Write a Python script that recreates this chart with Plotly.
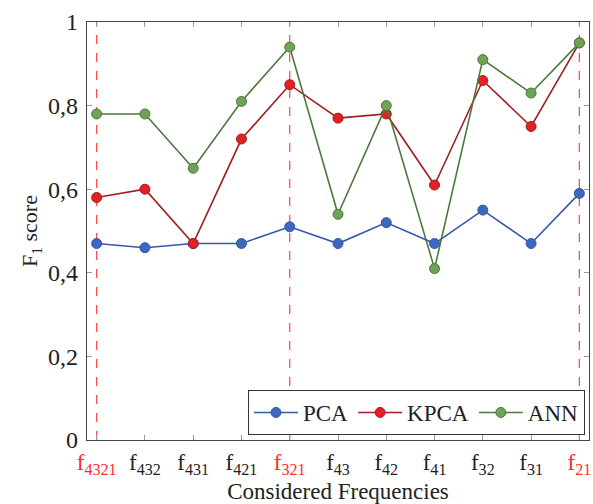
import plotly.graph_objects as go

categories = ["4321", "432", "431", "421", "321", "43", "42", "41", "32", "31", "21"]
highlighted = ["4321", "321", "21"]
pca = [0.47, 0.46, 0.47, 0.47, 0.51, 0.47, 0.52, 0.47, 0.55, 0.47, 0.59]
kpca = [0.58, 0.60, 0.47, 0.72, 0.85, 0.77, 0.78, 0.61, 0.86, 0.75, 0.95]
ann = [0.78, 0.78, 0.65, 0.81, 0.94, 0.54, 0.80, 0.41, 0.91, 0.83, 0.95]
y_ticks = [0, 0.2, 0.4, 0.6, 0.8, 1]
y_ticklabels = ["0", "0,2", "0,4", "0,6", "0,8", "1"]

x_idx = list(range(len(categories)))
x_ticktext = [
    (f"<span style='color:#ff2a2a'>f<sub>{c}</sub></span>" if c in highlighted else f"f<sub>{c}</sub>")
    for c in categories
]

series = [
    ("PCA", pca, "#3557a8", "#3e67c0"),
    ("KPCA", kpca, "#a11d20", "#e32026"),
    ("ANN", ann, "#4b7a3c", "#6ea357"),
]

fig = go.Figure()
for name, vals, lc, mc in series:
    fig.add_trace(go.Scatter(
        x=x_idx, y=vals, name=name, mode="lines+markers",
        line=dict(color=lc, width=1.6),
        marker=dict(size=10, color=mc, line=dict(color=lc, width=1)),
    ))

for c in highlighted:
    fig.add_vline(x=categories.index(c), line=dict(color="#ff4545", width=1.2, dash="dash"), layer="below")

font = "Liberation Serif"
fig.update_layout(
    width=593, height=504,
    margin=dict(l=87, r=2, t=22, b=64),
    plot_bgcolor="white", paper_bgcolor="white",
    font=dict(family=font, size=22, color="#222"),
    showlegend=True,
    legend=dict(
        orientation="h", x=0.992, xanchor="right", y=0.012, yanchor="bottom",
        bordercolor="#333", borderwidth=1, bgcolor="white",
        font=dict(family=font, size=23, color="#222"), itemwidth=44,
    ),
    xaxis=dict(
        range=[-0.2, len(categories) - 0.8],
        tickvals=x_idx, ticktext=x_ticktext,
        ticks="inside", ticklen=5, tickcolor="#999", mirror="ticks",
        showline=True, linecolor="#444", linewidth=1.2, showgrid=False, zeroline=False,
        tickfont=dict(family=font, size=23, color="#222"),
        ticklabeloverflow="allow", ticklabelstandoff=1,
        title=dict(text="Considered Frequencies", font=dict(family=font, size=23, color="#222"), standoff=6),
    ),
    yaxis=dict(
        range=[0, 1],
        tickvals=y_ticks, ticktext=y_ticklabels,
        ticks="inside", ticklen=5, tickcolor="#999", mirror="ticks",
        showline=True, linecolor="#444", linewidth=1.2, showgrid=False, zeroline=False,
        tickfont=dict(family=font, size=24, color="#222"),
        ticklabelstandoff=3,
        title=dict(text="F<sub>1</sub> score", font=dict(family=font, size=22, color="#222"), standoff=4),
    ),
)

fig.write_html("out.html")
